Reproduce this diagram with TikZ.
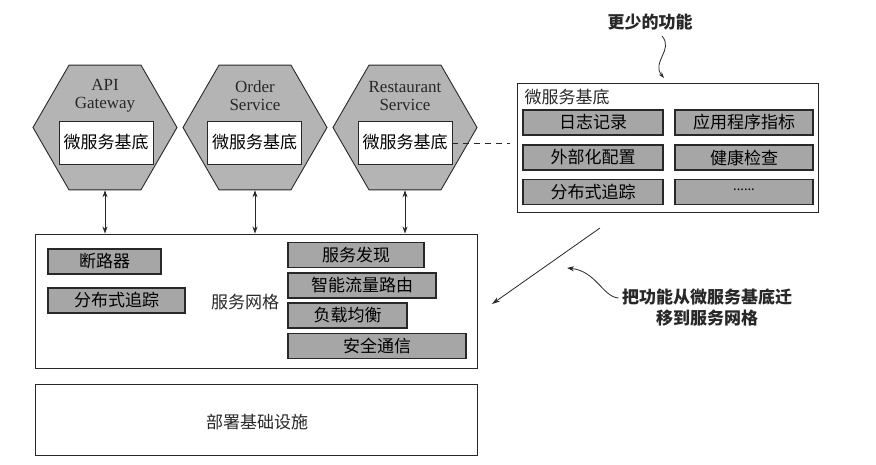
\documentclass[tikz,border=0pt]{standalone}
\usepackage{fontspec}
\setmainfont{Liberation Serif}
\newfontfamily\cjk{Noto Sans CJK SC}
\usetikzlibrary{shapes.geometric,arrows.meta}
\definecolor{hexgray}{RGB}{180,180,180}
\definecolor{boxgray}{RGB}{166,166,166}
\definecolor{inkgray}{RGB}{40,40,40}
\tikzset{
	hexcell/.style={regular polygon, regular polygon sides=6, minimum size=144pt, inner sep=0pt, draw=inkgray, line width=0.9pt, fill=hexgray},
	whitebox/.style={draw=inkgray, line width=0.9pt, fill=white, inner sep=0pt, minimum width=94pt, minimum height=43pt, font=\cjk\fontsize{17}{20}\selectfont},
	graybox/.style={draw=inkgray, line width=1.2pt, fill=boxgray, inner sep=0pt, minimum height=25pt, font=\cjk\fontsize{17}{20}\selectfont},
	layerbox/.style={draw=inkgray, line width=0.9pt, fill=white, inner sep=0pt},
	svcname/.style={align=center, font=\fontsize{17}{18}\selectfont, text=inkgray},
	cjklabel/.style={font=\cjk\fontsize{17}{20}\selectfont, text=inkgray},
	annot/.style={align=center, font=\cjk\bfseries\fontsize{17}{21}\selectfont, text=inkgray},
	link/.style={{Stealth[length=7pt,width=5pt]}-{Stealth[length=7pt,width=5pt]}, line width=0.8pt, draw=inkgray}
}
\begin{document}
\begin{tikzpicture}[x=1pt, y=-1pt]
		%%%%% START %%%%%
		\useasboundingbox[fill=white] (0, 0) rectangle (876, 465);
		
		% services
		\node[hexcell] (gw) at (105, 127.5) {};
		\node[hexcell] (order) at (255, 127.5) {};
		\node[hexcell] (rest) at (405, 127.5) {};
		
		\node[svcname] (gwname) at (105, 96) {API\\Gateway};
		\node[svcname] (ordername) at (255, 96) {Order\\Service};
		\node[svcname] (restname) at (405, 96) {Restaurant\\Service};
		
		\node[whitebox] (gwbase) at (106, 142.5) {微服务基底};
		\node[whitebox] (orderbase) at (254.5, 142.5) {微服务基底};
		\node[whitebox] (restbase) at (405, 142.5) {微服务基底};
		
		% chassis detail
		\node[layerbox, minimum width=301pt, minimum height=129pt] (chassis) at (667.5, 147.5) {};
		\node[cjklabel, anchor=west] (chassistitle) at (521, 97) {微服务基底};
		\node[graybox, minimum width=140pt] (logging) at (593, 122.5) {日志记录};
		\node[graybox, minimum width=138pt] (metrics) at (744, 122.5) {应用程序指标};
		\node[graybox, minimum width=140pt] (config) at (593, 157.5) {外部化配置};
		\node[graybox, minimum width=138pt] (health) at (744, 157.5) {健康检查};
		\node[graybox, minimum width=140pt] (tracing) at (593, 192) {分布式追踪};
		\node[graybox, minimum width=138pt] (more) at (744, 192) {\raisebox{4pt}{\fontsize{13}{13}\selectfont ......}};
		
		\draw[inkgray, line width=0.8pt, dash pattern=on 6pt off 5pt, shorten >=7pt] (restbase.east |- 0, 143) -- (chassis.west |- 0, 143);
		
		\node[annot] (fewer) at (650, 22) {更少的功能};
		\draw[-{Stealth[length=6pt,width=4pt]}, inkgray, line width=0.8pt] (662, 36) .. controls (674, 50) and (651, 62) .. (664, 78);
		
		% service mesh
		\node[layerbox, minimum width=442pt, minimum height=134pt] (mesh) at (256, 301) {};
		\node[cjklabel] (meshname) at (245, 302) {服务网格};
		\node[graybox, minimum width=113pt] (breaker) at (104.5, 261.5) {断路器};
		\node[graybox, minimum width=137pt] (meshtrace) at (116.5, 300.5) {分布式追踪};
		\node[graybox, minimum width=136pt] (discovery) at (356, 255) {服务发现};
		\node[graybox, minimum width=148pt] (routing) at (362, 285.5) {智能流量路由};
		\node[graybox, minimum width=119pt] (balance) at (347.5, 315.5) {负载均衡};
		\node[graybox, minimum width=178pt] (secure) at (377, 346) {安全通信};
		
		\draw[link] (gw.south) -- (gw.south |- mesh.north);
		\draw[link] (order.south) -- (order.south |- mesh.north);
		\draw[link] (rest.south) -- (rest.south |- mesh.north);
		
		% infrastructure
		\node[layerbox, minimum width=442pt, minimum height=71pt] (infra) at (256, 419.5) {};
		\node[cjklabel] (infraname) at (257, 422) {部署基础设施};
		
		% moving features
		\coordinate (movefrom) at (600, 228);
		\coordinate (moveto) at (492, 304);
		\draw[-{Stealth[length=8pt,width=5pt]}, inkgray, line width=0.8pt] (movefrom) -- (moveto);
		\node[annot] (move) at (707, 308) {把功能从微服务基底迁\\移到服务网格};
		\draw[-{Stealth[length=7pt,width=5pt]}, inkgray, line width=0.8pt] (move.west |- 0, 298) .. controls (603, 297) and (596, 271) .. (567, 268);
		
		%%%%% END %%%%%
	\end{tikzpicture}
\end{document}
